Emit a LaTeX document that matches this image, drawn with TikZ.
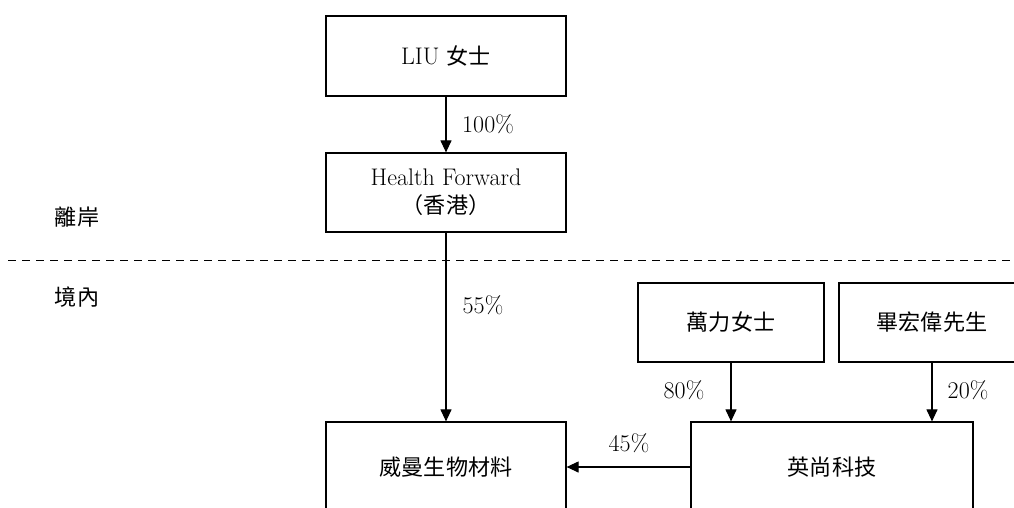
\documentclass[tikz,border=0pt]{standalone}
\usepackage{fontspec}
\newfontfamily\cjk[Scale=0.92]{Noto Sans CJK TC}
\usetikzlibrary{arrows.meta}
\begin{document}
\begin{tikzpicture}[x=1pt,y=-1pt,
  font=\fontsize{24}{27}\selectfont,
  box/.style={draw, line width=1.2pt, inner sep=0pt, align=center},
  conn/.style={line width=1.1pt, -{Triangle[length=12pt,width=11pt]}},
  pct/.style={inner sep=0pt}]
\useasboundingbox (0,0) rectangle (1014,507);
\clip (0,0) rectangle (1014,507);
\node[box, minimum width=240pt, minimum height=80pt] (liu) at (446,56) {LIU {\cjk 女士}};
\node[box, minimum width=240pt, minimum height=79pt] (hf) at (446,192.5) {Health Forward\\[1pt]{\cjk （香港）}};
\node[box, minimum width=186pt, minimum height=79pt] (wl) at (731,322.5) {\cjk 萬力女士};
\node[box, minimum width=186pt, minimum height=79pt] (bi) at (932,322.5) {\cjk 畢宏偉先生};
\node[box, minimum width=240pt, minimum height=90pt] (wm) at (446,467) {\cjk 威曼生物材料};
\node[box, minimum width=282pt, minimum height=90pt] (ys) at (832,467) {\cjk 英尚科技};
\coordinate (dl) at (8,260);
\coordinate (dr) at (1014,260);
\draw[line width=1pt, dash pattern=on 8pt off 6pt] (dl) -- (dr);
\node[pct] (off) at (77,217) {\cjk 離岸};
\node[pct] (on) at (77,297) {\cjk 境內};
\draw[conn] (liu) -- (hf);
\draw[conn] (hf) -- (wm);
\draw[conn] (wl.south) -- (wl.south |- ys.north);
\draw[conn] (bi.south) -- (bi.south |- ys.north);
\draw[conn] (ys) -- (wm);
\node[pct] (p100) at (488,124) {100\%};
\node[pct] (p55) at (483,305) {55\%};
\node[pct] (p80) at (684,390) {80\%};
\node[pct] (p20) at (968,390) {20\%};
\node[pct] (p45) at (629,443) {45\%};
\end{tikzpicture}
\end{document}
